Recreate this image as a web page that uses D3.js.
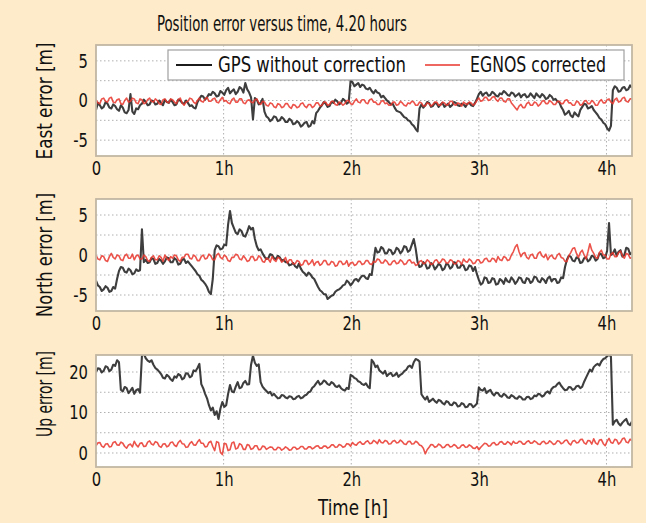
<!DOCTYPE html>
<html><head><meta charset="utf-8">
<script src="https://cdn.jsdelivr.net/npm/d3@7"></script>
<style>
body{margin:0;background:#fdebc9;}
svg{display:block;}
text{font-family:"Liberation Sans Narrow","DejaVu Sans Condensed","Roboto",sans-serif;fill:#111;}
</style>
</head><body>
<svg id="chart" width="646" height="523"></svg>
<script>
// ---- data (one sample every 0.015 h) ----
const sampleStepHours = 0.015;
const xTickValues = [0, 1, 2, 3, 4];
const xTickLabels = ["0", "1h", "2h", "3h", "4h"];
const horizTickValues = [-5, 0, 5];
const upTickValues = [0, 10, 20];
const seriesNames = ["GPS without correction", "EGNOS corrected"];

const eastGps = [
 -1.2,-0.3,-0.6,-1.0,-0.8,-0.2,-0.4,-0.9,-1.0,-0.5,-0.7,-1.1,-1.3,-0.6,-0.9,-1.5,-1.6,-1.2,0.8,-1.4,
 -1.7,-1.0,-1.1,-0.6,-0.4,0.1,-0.2,-0.6,-0.5,0.0,-0.1,-0.5,-0.4,0.0,-0.3,-0.6,0.1,-0.2,-0.3,0.1,
 -0.2,-0.6,-0.5,0.1,0.0,-0.3,-0.4,0.0,-0.3,-0.7,-0.6,-0.9,-1.0,-0.2,0.2,0.6,0.5,0.1,0.4,0.8,
 0.7,1.1,0.9,0.5,0.6,1.2,1.0,0.7,1.3,1.6,0.9,1.2,1.4,0.8,1.1,1.7,1.5,1.0,2.2,1.4,
 1.0,0.4,-2.4,0.3,0.1,-0.5,-0.3,0.2,-1.4,-2.0,-2.2,-2.6,-2.4,-2.0,-2.1,-2.6,-2.5,-2.1,-2.3,-2.7,
 -2.7,-2.3,-2.5,-3.0,-2.9,-2.6,-2.8,-3.3,-3.1,-2.8,-2.7,-3.3,-3.2,-2.6,-2.9,-1.6,-1.3,-0.9,-0.6,-0.2,
 -0.4,-0.8,-0.7,-0.2,-0.3,0.1,-0.1,-0.5,-0.3,0.2,0.0,-0.4,-0.2,2.5,2.3,1.8,2.0,2.2,1.7,2.0,
 1.9,1.5,1.4,1.6,1.2,0.9,1.3,1.0,0.9,0.4,0.6,0.3,0.0,-0.2,-0.5,-0.4,-0.9,-1.3,-1.4,-1.5,
 -1.8,-2.1,-2.2,-2.5,-2.6,-3.0,-3.2,-3.6,-3.9,-1.0,-0.5,-0.9,-0.6,-0.2,-0.3,-0.8,-0.7,-0.3,-0.4,-0.8,
 -0.5,-0.3,-0.8,-0.6,-0.4,-0.8,-0.6,-0.2,-0.3,-0.6,-0.7,-0.4,-0.5,-0.8,-0.4,-0.3,-0.6,-0.7,-0.3,0.2,
 0.8,1.1,0.6,0.9,1.0,0.6,0.7,1.1,0.9,0.6,0.5,0.9,0.8,1.2,1.0,0.7,0.6,1.0,0.9,0.5,
 0.7,0.9,0.4,0.7,0.8,0.4,0.5,0.9,0.6,0.3,0.9,0.6,0.4,0.8,0.6,0.2,0.3,0.7,0.5,0.1,
 0.2,-0.1,-0.2,-0.8,-1.2,-1.8,-1.6,-1.3,-1.9,-2.1,-1.5,-1.8,-2.0,-1.2,-0.8,-0.4,-0.5,-1.0,-0.9,-0.7,
 -1.2,-1.5,-1.8,-2.2,-2.4,-2.8,-3.0,-3.5,-3.8,-3.2,1.3,1.8,1.6,1.1,1.2,1.6,1.7,1.3,1.4,1.9,
 1.6];
const eastEgnos = [
 0.1,-0.3,-0.4,0.2,0.3,-0.1,-0.2,0.3,0.4,-0.2,-0.3,0.1,0.2,-0.4,-0.5,0.0,0.3,-0.2,-0.1,0.3,
 0.2,-0.3,-0.4,0.2,0.1,-0.4,-0.3,0.1,0.3,-0.1,-0.2,0.2,0.0,-0.4,-0.5,0.1,0.2,-0.2,-0.3,0.2,
 0.1,-0.2,-0.4,0.1,0.3,-0.3,-0.6,-0.2,-0.1,0.3,0.2,-0.2,-0.4,0.0,0.3,-0.1,-0.2,0.2,0.4,-0.1,
 -0.1,0.2,0.3,-0.2,-0.3,0.1,0.4,-0.1,0.0,-0.3,-0.4,0.1,0.3,-0.2,-0.2,0.2,0.2,-0.3,-0.4,0.0,
 0.1,-0.2,-0.3,0.1,0.2,-0.3,-0.5,-0.1,-0.2,-0.6,-0.7,-0.3,-0.4,-0.8,-0.9,-0.4,-0.5,-0.9,-0.8,-0.4,
 -0.4,-0.8,-1.0,-0.5,-0.6,-0.9,-0.8,-0.4,-0.3,-0.7,-0.9,-0.5,-0.5,-0.9,-0.7,-0.3,-0.3,-0.7,-0.6,-0.2,
 -0.2,-0.6,-0.5,-0.1,-0.1,-0.5,-0.6,-0.2,-0.3,-0.6,-0.4,0.0,0.0,-0.4,-0.5,-0.1,0.2,-0.2,-0.3,0.1,
 0.1,-0.3,-0.4,0.1,0.2,-0.2,-0.2,-0.5,-0.5,-0.1,0.0,-0.4,-0.3,-0.6,-0.6,-0.2,-0.2,-0.6,-0.5,-0.1,
 -0.3,-0.6,-0.7,-0.3,-0.4,-0.1,-0.2,-0.6,-0.6,-0.2,-0.3,-0.7,-0.7,-0.3,-0.4,-0.7,-0.5,-0.2,-0.2,-0.6,
 -0.6,-0.2,-0.3,-0.6,-0.5,-0.1,-0.1,-0.5,-0.6,-0.3,-0.4,-0.7,-0.2,-0.4,-0.5,-0.2,-0.3,-0.6,-0.4,0.0,
 0.3,-0.1,0.0,0.4,0.4,0.0,0.1,0.4,0.5,0.1,-0.1,0.3,0.3,-0.1,-0.2,0.2,0.2,-0.3,-0.6,-0.9,
 -1.2,-0.7,-0.5,-0.9,-0.9,-0.4,-0.2,-0.6,-0.6,-0.2,-0.3,-0.7,-0.5,-0.1,0.0,-0.4,-0.4,0.0,-0.2,-0.5,
 -0.5,-0.1,-0.1,-0.4,-0.4,0.0,0.1,-0.3,-0.3,-0.6,-0.6,-0.1,-0.2,-0.6,-0.5,-0.1,0.0,-0.4,-0.4,0.0,
 -0.2,-0.6,-0.6,-0.1,0.1,-0.3,-0.3,0.1,0.2,-0.2,-0.4,0.1,0.3,-0.2,-0.1,0.3,0.4,-0.1,-0.2,0.2,
 0.2];
const northGps = [
 -3.2,-3.8,-4.0,-4.5,-4.3,-3.9,-4.1,-4.6,-4.5,-4.0,-4.2,-3.0,-2.0,-1.5,-1.6,-2.1,-2.2,-1.7,-1.9,-2.4,
 -2.3,-1.8,-2.0,-1.9,3.2,-0.9,-0.6,-1.0,-0.9,-0.4,-0.5,-1.1,-1.0,-0.5,-0.7,-1.1,-0.8,-0.3,-0.4,-0.9,
 -0.9,-0.4,-0.6,-1.2,-1.1,-0.6,-0.5,-1.0,-0.8,-1.1,-1.4,-1.7,-2.0,-2.4,-2.6,-3.1,-3.3,-3.6,-4.0,-4.6,
 -4.9,-3.0,0.6,1.2,1.1,0.7,0.8,1.3,1.2,3.8,5.5,4.0,3.4,2.8,2.6,3.2,3.0,2.4,2.3,2.9,
 3.6,3.2,3.4,2.0,1.1,0.6,0.7,0.2,-0.2,-0.5,-0.4,0.1,0.0,-0.4,-0.5,-0.1,-0.3,-0.7,-0.6,-0.9,
 -0.9,-1.3,-1.2,-1.0,-1.4,-1.6,-1.1,-1.7,-2.1,-2.3,-2.6,-2.2,-2.4,-2.8,-3.0,-3.5,-4.0,-4.4,-4.6,-4.9,
 -4.9,-5.5,-5.3,-5.1,-5.0,-4.6,-4.4,-4.3,-4.1,-3.8,-3.7,-3.2,-3.4,-3.8,-3.5,-3.1,-3.0,-3.3,-2.9,-2.6,
 -2.6,-2.9,-3.0,-2.4,-2.5,-0.8,0.9,0.3,0.4,1.0,0.8,0.2,0.2,0.7,0.6,0.1,0.3,0.9,0.7,0.2,
 0.5,1.1,1.0,0.4,0.6,1.3,2.0,0.8,-0.9,-1.5,-1.4,-0.9,-1.1,-1.7,-1.6,-1.0,-1.2,-1.8,-1.5,-1.1,
 -1.3,-1.9,-1.7,-1.1,-1.2,-1.7,-1.5,-0.9,-1.0,-1.6,-1.6,-1.2,-1.3,-1.9,-1.8,-1.3,-1.4,-2.0,-1.5,-2.4,
 -3.1,-3.7,-3.5,-2.8,-2.9,-3.5,-3.4,-2.9,-3.0,-3.7,-3.6,-3.0,-3.2,-3.6,-2.9,-3.3,-3.4,-2.8,-3.1,-3.6,
 -3.3,-2.8,-2.9,-3.4,-3.5,-2.9,-3.0,-3.5,-3.3,-2.7,-2.8,-3.3,-3.4,-2.9,-3.1,-3.5,-2.9,-2.7,-3.3,-3.0,
 -3.0,-3.5,-3.4,-2.8,-2.9,-1.5,-0.6,-0.1,-0.2,-0.7,-0.8,-0.3,-0.4,-1.0,-0.9,-0.4,-0.3,-0.8,-0.6,-0.1,
 -0.2,-0.7,-0.5,0.2,0.1,-0.4,-0.3,0.5,4.0,0.0,0.2,0.7,-0.1,0.4,0.6,-0.2,0.0,0.9,0.8,0.1,
 0.3];
const northEgnos = [
 0.0,-0.5,-0.6,-0.1,-0.2,-0.7,-0.8,-0.2,0.2,-0.3,-0.5,0.0,-0.1,-0.6,-0.7,-0.1,0.1,-0.4,-0.4,0.1,
 -0.6,-0.1,0.0,-0.5,-0.5,0.0,-0.2,-0.7,-0.8,-0.3,-0.1,-0.6,-0.6,-0.1,-0.3,-0.8,0.0,-0.4,-0.7,-0.2,
 -0.4,0.0,-0.1,-0.6,-0.8,-0.3,-0.3,0.1,0.1,-0.4,-0.5,0.0,-0.2,-0.7,-0.7,-0.2,0.0,-0.5,-0.4,0.1,
 -0.1,-0.6,-0.6,0.0,0.2,-0.3,-0.5,0.0,-0.2,-0.7,-0.8,-0.3,-0.3,0.1,0.0,-0.5,-0.6,-0.1,-0.4,-0.8,
 -0.7,-0.2,-0.2,-0.7,-0.6,-0.1,-0.3,-0.8,-0.9,-0.4,-0.5,-0.9,-0.2,-0.6,-0.8,-0.3,-0.4,-0.9,-0.7,-0.3,
 -1.0,-0.6,-0.6,-1.1,-1.1,-0.7,-0.8,-1.3,-1.2,-0.7,-0.7,-1.2,-1.0,-0.6,-1.3,-0.9,-0.8,-1.3,-1.1,-0.7,
 -0.7,-1.2,-1.2,-0.8,-0.9,-1.4,-1.3,-0.8,-0.8,-1.2,-1.1,-0.7,-1.4,-1.0,-0.9,-1.3,-1.2,-0.8,-0.8,-1.2,
 -1.1,-0.7,-0.7,-1.1,-1.2,-0.8,-0.9,-0.5,-0.6,-1.0,-1.0,-0.6,-0.8,-1.2,-1.2,-0.8,-0.7,-1.1,-1.0,-0.6,
 -0.8,-1.2,-1.1,-0.7,-0.6,-1.0,-0.9,-1.3,-1.2,-0.8,-0.7,-1.1,-1.0,-0.6,-0.8,-1.2,-1.1,-0.7,-0.6,-1.0,
 -0.9,-0.5,-0.6,-1.0,-1.0,-0.6,-0.7,-1.1,-1.1,-0.7,-0.8,-1.2,-0.5,-0.8,-0.9,-0.5,-0.7,-1.1,-1.0,-0.6,
 -0.6,-1.0,-0.9,-0.5,-0.4,-0.8,-0.8,-0.4,-0.5,-0.9,-0.2,-0.6,-0.7,-0.2,-0.3,-0.7,-0.6,0.0,0.4,1.0,
 1.3,0.4,-0.2,0.2,0.3,-0.3,-0.5,0.0,0.1,-0.4,-0.4,0.2,0.4,-0.1,-0.3,0.1,-0.6,-0.2,0.0,-0.4,
 -0.5,0.0,0.2,-0.3,-0.4,-0.8,-0.8,-0.1,0.3,0.8,0.9,0.2,-0.3,0.3,0.6,0.0,-0.5,0.4,1.4,0.6,
 0.2,-0.3,-0.4,0.3,0.6,0.0,0.0,-0.5,-0.5,0.1,0.3,-0.2,-0.2,0.3,0.5,-0.1,-0.4,0.2,0.1,-0.4,
 -0.3];
const upGps = [
 20.0,20.9,20.8,19.9,20.3,21.4,21.2,20.2,20.6,21.8,21.5,22.9,22.4,15.6,15.2,16.3,16.0,14.8,15.4,16.1,
 14.6,15.5,15.8,14.9,24.0,24.5,23.4,22.8,22.5,22.9,21.8,21.0,20.6,20.1,19.5,18.6,18.4,19.3,18.9,18.2,
 17.8,18.9,18.6,19.5,19.2,18.2,18.5,19.7,19.6,18.7,19.0,20.4,20.2,21.0,22.0,17.0,16.0,14.6,13.5,11.8,
 10.5,11.2,9.4,10.3,8.4,11.0,12.6,11.4,11.8,14.6,16.8,15.2,15.0,16.4,17.5,16.0,16.2,17.3,17.8,16.9,
 17.0,21.8,24.0,22.3,21.5,21.9,17.5,16.4,15.8,15.3,14.8,15.1,14.2,14.6,14.0,13.5,13.6,14.3,14.2,13.7,
 13.5,14.0,13.9,13.3,13.4,13.9,14.1,13.5,13.7,14.2,14.4,15.0,15.2,16.1,16.5,17.2,17.8,16.9,17.2,17.9,
 17.6,17.0,16.8,17.5,17.2,16.5,16.3,16.7,16.0,15.6,15.4,16.1,15.8,19.3,19.0,18.5,18.3,17.7,17.5,17.0,
 16.8,17.2,16.4,16.0,23.0,22.4,21.2,21.6,20.4,20.0,19.6,20.3,19.0,19.5,19.8,19.0,19.2,19.8,18.8,19.3,
 19.6,20.2,20.5,21.3,21.6,21.0,22.4,23.2,23.0,22.6,14.5,13.8,13.2,13.9,12.6,13.0,13.4,12.8,12.4,13.1,
 12.9,12.3,12.0,12.8,12.6,11.9,11.8,12.5,12.3,11.5,11.6,12.3,12.1,11.3,11.4,12.1,12.0,11.3,11.7,12.2,
 16.2,15.6,15.4,16.0,14.8,15.3,15.6,14.7,14.2,14.9,14.8,14.1,13.9,14.6,14.3,13.7,13.6,14.3,14.0,13.5,
 13.4,14.0,13.8,13.2,13.2,13.8,13.9,13.3,13.5,14.2,14.0,14.6,14.5,13.9,14.2,14.9,15.2,14.7,15.8,16.3,
 16.4,17.0,17.4,16.6,16.0,15.5,15.6,16.3,16.2,15.6,15.8,16.5,16.6,16.0,16.4,17.6,18.6,19.6,20.6,20.1,
 21.2,21.7,22.0,21.6,22.6,23.2,23.4,23.9,24.3,23.8,7.0,7.8,8.2,7.3,6.8,7.5,8.0,8.4,7.2,6.9,
 7.8];
const upEgnos = [
 1.8,2.5,2.6,1.7,1.4,2.2,2.3,1.5,1.6,2.6,2.8,2.0,1.9,2.7,2.4,1.6,1.2,2.0,2.2,1.5,
 2.9,2.0,1.5,2.4,2.5,1.6,1.7,2.7,3.0,2.2,2.0,2.8,2.6,1.7,1.4,2.2,2.3,1.5,1.8,2.6,
 2.7,1.9,1.6,2.6,3.1,2.3,2.2,1.4,1.5,2.4,2.8,2.0,1.9,2.7,3.3,2.4,2.4,1.5,1.6,2.6,
 2.9,1.6,0.6,2.8,2.6,0.2,-0.4,2.4,2.2,0.6,0.8,2.5,2.7,1.0,1.2,2.3,2.0,0.9,0.9,2.1,
 1.9,0.9,1.1,1.8,1.8,0.8,0.9,1.7,1.6,0.9,1.2,1.5,1.4,0.8,0.8,1.4,1.3,0.7,1.0,1.5,
 1.2,0.7,0.8,1.4,1.4,0.9,1.1,1.6,1.6,1.0,1.0,1.5,1.5,1.0,1.3,1.7,1.8,1.2,1.2,1.7,
 1.7,1.2,1.4,2.0,2.0,1.4,1.5,2.1,1.9,1.4,1.6,2.3,2.2,1.7,2.6,2.1,1.9,2.5,2.8,2.2,
 2.2,2.8,3.0,2.3,2.4,3.1,2.8,2.3,3.3,2.6,2.5,3.1,2.9,2.2,2.3,2.9,3.1,2.5,2.6,3.2,
 2.8,2.2,2.1,2.8,2.9,2.2,2.3,2.9,2.6,2.0,1.8,1.2,-0.2,0.8,1.4,2.1,2.0,1.4,1.6,2.2,
 1.9,1.3,1.4,2.0,2.1,1.5,1.6,2.1,1.8,1.2,1.3,1.9,2.0,1.4,1.5,2.0,1.7,1.2,1.1,1.6,
 0.8,1.4,1.9,2.4,2.3,1.7,1.8,2.4,2.6,2.0,2.1,2.7,2.8,2.2,2.2,2.8,2.5,2.0,2.9,2.4,
 2.4,2.9,2.8,2.2,2.2,2.8,3.0,2.4,2.5,3.0,2.7,2.2,2.1,2.7,2.9,2.3,2.4,3.0,2.6,2.1,
 2.3,3.0,2.9,2.3,2.5,3.1,3.2,2.4,2.0,2.9,3.1,2.5,2.6,3.3,3.4,2.5,2.2,3.1,3.0,2.2,
 3.5,2.5,2.1,3.2,3.3,2.3,1.8,2.9,3.6,2.6,2.4,3.4,3.2,2.2,2.6,3.5,3.7,2.7,2.5,3.4,
 3.0];

// ---- layout ----
const svg = d3.select("#chart");
const plotLeft = 96, plotRight = 632;
const x = d3.scaleLinear().domain([0, 4.2]).range([plotLeft, plotRight]);

const panels = [
  {label: "East error [m]", top: 45, bottom: 156, domain: [-7, 7], ticks: horizTickValues,
   grid: [-5, -2.5, 0, 2.5, 5], gps: eastGps, egnos: eastEgnos, labelCenter: 101, labelLen: 117},
  {label: "North error [m]", top: 199, bottom: 311, domain: [-7, 7], ticks: horizTickValues,
   grid: [-5, -2.5, 0, 2.5, 5], gps: northGps, egnos: northEgnos, labelCenter: 255, labelLen: 124},
  {label: "Up error [m]", top: 355, bottom: 467, domain: [-3.46, 24.2], ticks: upTickValues,
   grid: [0, 5, 10, 15, 20], gps: upGps, egnos: upEgnos, labelCenter: 394, labelLen: 86}
];

// squeeze a text element horizontally to mimic the narrow face of the original
function squeeze(sel, factor, fixedLen) {
  sel.each(function () {
    const w = this.getComputedTextLength();
    const len = fixedLen || w * factor;
    d3.select(this).attr("textLength", len).attr("lengthAdjust", "spacingAndGlyphs");
  });
}

const tickFont = 20;

panels.forEach((p, pi) => {
  const y = d3.scaleLinear().domain(p.domain).range([p.bottom, p.top]);
  const g = svg.append("g");
  g.append("rect").attr("x", plotLeft).attr("y", p.top)
    .attr("width", plotRight - plotLeft).attr("height", p.bottom - p.top)
    .attr("fill", "#ffffff");
  g.selectAll(".hg").data(p.grid).join("line")
    .attr("x1", plotLeft).attr("x2", plotRight)
    .attr("y1", d => y(d)).attr("y2", d => y(d))
    .attr("stroke", "#b0b0b0").attr("stroke-width", 1).attr("stroke-dasharray", "1.5,2.5");
  g.selectAll(".vg").data(xTickValues.slice(1)).join("line")
    .attr("x1", d => x(d)).attr("x2", d => x(d))
    .attr("y1", p.top).attr("y2", p.bottom)
    .attr("stroke", "#b0b0b0").attr("stroke-width", 1).attr("stroke-dasharray", "1.5,2.5");

  const clipId = "clip" + pi;
  svg.append("clipPath").attr("id", clipId).append("rect")
    .attr("x", plotLeft).attr("y", p.top).attr("width", plotRight - plotLeft).attr("height", p.bottom - p.top);

  const line = d3.line().x((d, i) => x(i * sampleStepHours)).y(d => y(d));
  g.append("path").datum(p.gps).attr("d", line).attr("clip-path", `url(#${clipId})`)
    .attr("fill", "none").attr("stroke", "#1c1c1c").attr("stroke-width", 2.1)
    .attr("stroke-linejoin", "round").attr("opacity", 0.85);
  g.append("path").datum(p.egnos).attr("d", line).attr("clip-path", `url(#${clipId})`)
    .attr("fill", "none").attr("stroke", "#e8352b").attr("stroke-width", 1.6)
    .attr("stroke-linejoin", "round").attr("opacity", 0.85);

  g.append("rect").attr("x", plotLeft).attr("y", p.top)
    .attr("width", plotRight - plotLeft).attr("height", p.bottom - p.top)
    .attr("fill", "none").attr("stroke", "#c2b7a4").attr("stroke-width", 1.8);

  const xAxis = d3.axisBottom(x).tickValues(xTickValues)
    .tickFormat((d, i) => xTickLabels[i]).tickSize(0).tickPadding(5);
  const gx = g.append("g").attr("transform", `translate(0,${p.bottom})`).call(xAxis);
  gx.select(".domain").remove();
  gx.selectAll("text").attr("font-size", tickFont).attr("font-family", null).attr("fill", "#111");
  squeeze(gx.selectAll("text"), 0.82);

  const yAxis = d3.axisLeft(y).tickValues(p.ticks).tickFormat(d => String(d)).tickSize(0).tickPadding(8);
  const gy = g.append("g").attr("transform", `translate(${plotLeft},0)`).call(yAxis);
  gy.select(".domain").remove();
  gy.selectAll("text").attr("font-size", tickFont).attr("font-family", null).attr("fill", "#111");
  squeeze(gy.selectAll("text"), 0.82);

  const lab = g.append("text")
    .attr("transform", `translate(52,${p.labelCenter}) rotate(-90)`)
    .attr("text-anchor", "middle").attr("font-size", 21)
    .text(p.label);
  squeeze(lab, 1, p.labelLen);
});

// title
const title = svg.append("text").attr("x", 282).attr("y", 31).attr("text-anchor", "middle")
  .attr("font-size", 21).text("Position error versus time, 4.20 hours");
squeeze(title, 1, 250);

// x label
const xl = svg.append("text").attr("x", 353).attr("y", 515).attr("text-anchor", "middle")
  .attr("font-size", 21).text("Time [h]");
squeeze(xl, 1, 70);

// legend
const legend = svg.append("g");
legend.append("rect").attr("x", 168).attr("y", 50).attr("width", 456).attr("height", 30)
  .attr("fill", "#ffffff").attr("stroke", "#a0a0a0").attr("stroke-width", 1.2);
const legendItems = [
  {name: seriesNames[0], color: "#1c1c1c", x1: 176, x2: 212, tx: 218, w: 2.2, len: 188},
  {name: seriesNames[1], color: "#e8352b", x1: 425, x2: 460, tx: 470, w: 1.6, len: 136}
];
legendItems.forEach(it => {
  legend.append("line").attr("x1", it.x1).attr("x2", it.x2).attr("y1", 65).attr("y2", 65)
    .attr("stroke", it.color).attr("stroke-width", it.w);
  const t = legend.append("text").attr("x", it.tx).attr("y", 72).attr("font-size", 21).text(it.name);
  squeeze(t, 1, it.len);
});
</script>
</body></html>
